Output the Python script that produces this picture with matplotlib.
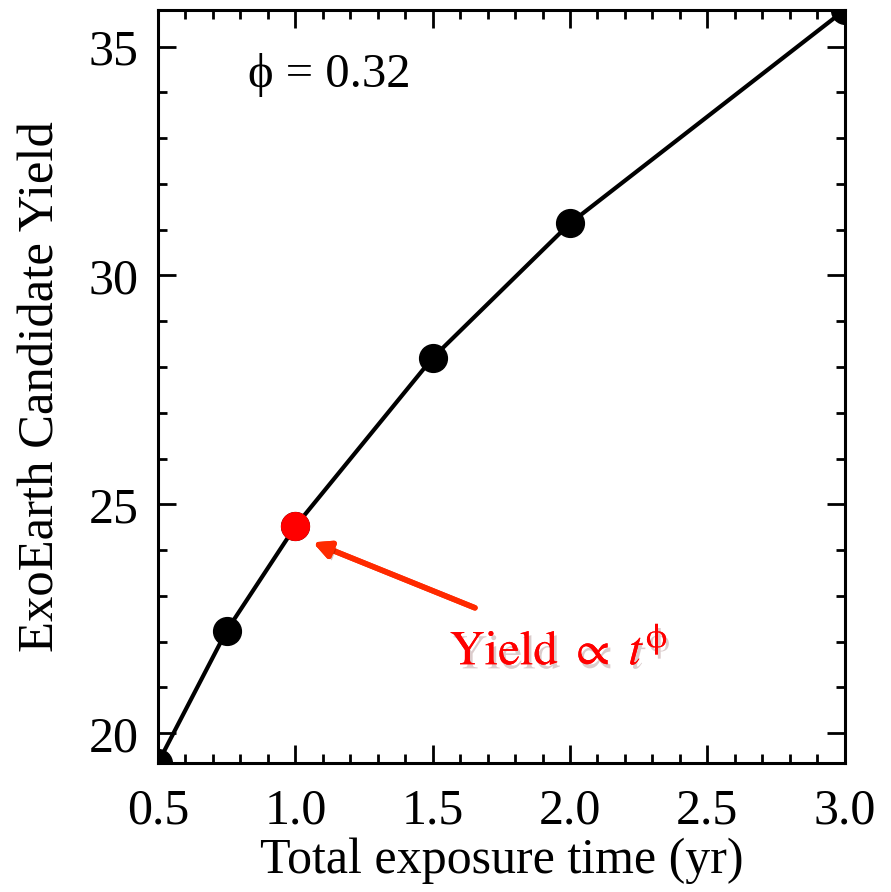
import matplotlib
matplotlib.use('Agg')
import matplotlib.pyplot as plt
import matplotlib.patheffects as pe
from matplotlib.ticker import MultipleLocator, FormatStrFormatter

plt.rcParams['font.family'] = ['Liberation Serif', 'DejaVu Serif']
plt.rcParams['mathtext.fontset'] = 'stix'

# data
exposure_yr = [0.5, 0.75, 1.0, 1.5, 2.0, 3.0]
yield_vals = [19.35, 22.24, 24.52, 28.20, 31.14, 35.80]
highlight_x = [1.0]
highlight_y = [24.52]
phi = 0.32

fig = plt.figure(figsize=(8.91, 8.92), dpi=100)
ax = fig.add_axes([0.1773, 0.1446, 0.7707, 0.8442])

ax.plot(exposure_yr, yield_vals, color='black', lw=3, marker='o',
        ms=20, mfc='black', mec='black')
ax.plot(highlight_x, highlight_y, 'o', color='#ff0000', ms=20, zorder=5)

ax.set_xlim(min(exposure_yr), max(exposure_yr))
ax.set_ylim(min(yield_vals), max(yield_vals))

ax.xaxis.set_major_locator(MultipleLocator(0.5))
ax.xaxis.set_minor_locator(MultipleLocator(0.1))
ax.yaxis.set_major_locator(MultipleLocator(5))
ax.yaxis.set_minor_locator(MultipleLocator(1))
ax.xaxis.set_major_formatter(FormatStrFormatter('%.1f'))

ax.tick_params(which='both', direction='in', top=True, right=True,
               width=2, labelsize=36, colors='black')
ax.tick_params(which='major', length=13)
ax.tick_params(axis='x', which='major', pad=18)
ax.tick_params(axis='y', which='major', pad=14)
ax.tick_params(which='minor', length=6.5)
for s in ax.spines.values():
    s.set_linewidth(2.2)

ax.set_xlabel('Total exposure time (yr)', fontsize=36, labelpad=2)
ax.set_ylabel('ExoEarth Candidate Yield', fontsize=36.5, labelpad=17)

ax.text(0.828, 34.39, 'ϕ = %.2f' % phi, fontsize=35, ha='left', va='center')

shadow = [pe.withSimplePatchShadow(offset=(2, -3), alpha=0.25), pe.Normal()]
ax.annotate('', xy=(1.064, 24.17), xytext=(1.654, 22.74),
            arrowprops=dict(arrowstyle='-|>,head_length=1.0,head_width=0.5',
                            color='#ff2a00', lw=4, shrinkA=0, shrinkB=0,
                            path_effects=shadow))
t = ax.text(1.96, 21.78, '$\\mathrm{Yield}\\ \\propto\\ t^{\\mathrm{ϕ}}$',
            color='#ff0000', fontsize=35, ha='center', va='center')
t.set_path_effects([pe.withSimplePatchShadow(offset=(2, -3), alpha=0.2), pe.Normal()])

fig.savefig('out.png', dpi=100)
